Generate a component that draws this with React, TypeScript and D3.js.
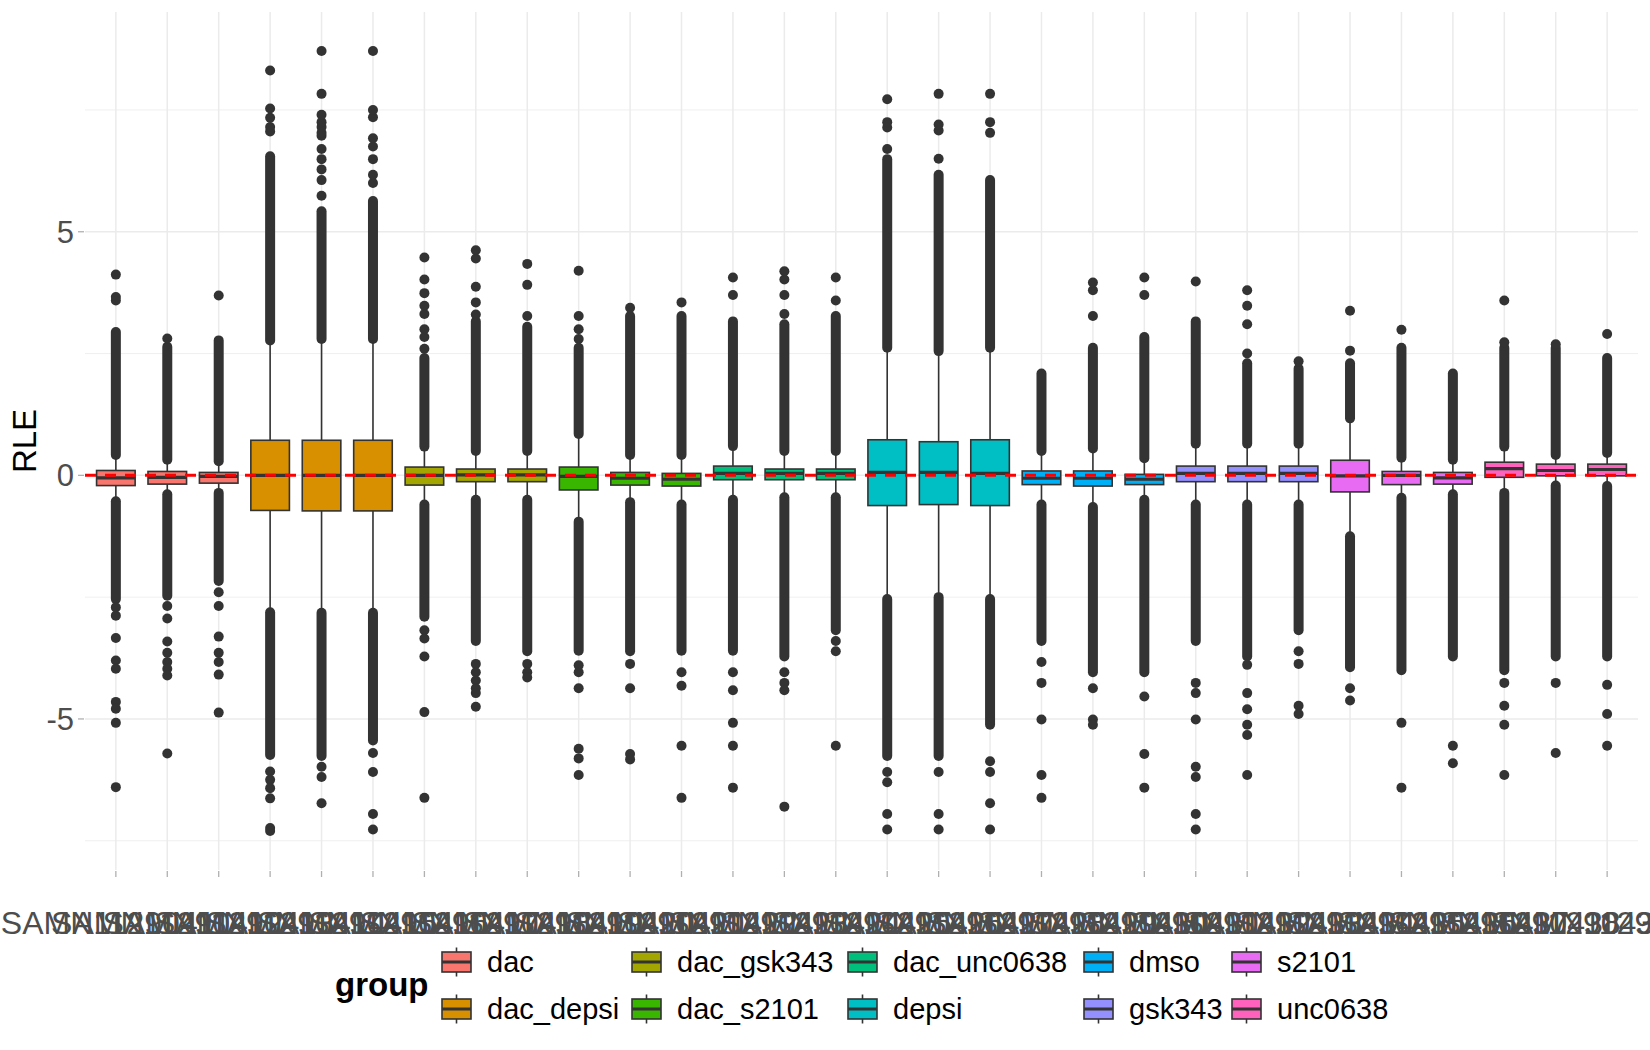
import { useRef, useEffect } from 'react'
import * as d3 from 'd3'

// sample labels (x axis) and their treatment group
const SAMPLES = [
  'SAMN11290411', 'SAMN11290412', 'SAMN11290413', 'SAMN11290414', 'SAMN11290415',
  'SAMN11290416', 'SAMN11290417', 'SAMN11290418', 'SAMN11290419', 'SAMN11290420',
  'SAMN11290421', 'SAMN11290422', 'SAMN11290423', 'SAMN11290424', 'SAMN11290425',
  'SAMN11290426', 'SAMN11290427', 'SAMN11290428', 'SAMN11290429', 'SAMN11290430',
  'SAMN11290431', 'SAMN11290432', 'SAMN11290433', 'SAMN11290434', 'SAMN11290435',
  'SAMN11290436', 'SAMN11290437', 'SAMN11290438', 'SAMN11290439', 'SAMN11290440',
]
const SAMPLE_GROUP = [
  'dac', 'dac', 'dac',
  'dac_depsi', 'dac_depsi', 'dac_depsi',
  'dac_gsk343', 'dac_gsk343', 'dac_gsk343',
  'dac_s2101', 'dac_s2101', 'dac_s2101',
  'dac_unc0638', 'dac_unc0638', 'dac_unc0638',
  'depsi', 'depsi', 'depsi',
  'dmso', 'dmso', 'dmso',
  'gsk343', 'gsk343', 'gsk343',
  's2101', 's2101', 's2101',
  'unc0638', 'unc0638', 'unc0638',
]
const GROUP_LEVELS = [
  'dac', 'dac_depsi', 'dac_gsk343', 'dac_s2101', 'dac_unc0638',
  'depsi', 'dmso', 'gsk343', 's2101', 'unc0638',
]
const GROUP_COLORS = [
  '#F8766D', '#D89000', '#A3A500', '#39B600', '#00BF7D',
  '#00BFC4', '#00B0F6', '#9590FF', '#E76BF3', '#FF62BC',
]

// box statistics per sample
const Q1 = [
  -0.21, -0.18, -0.16, -0.72, -0.73, -0.73, -0.2, -0.13, -0.13, -0.3,
  -0.2, -0.22, -0.09, -0.09, -0.09, -0.62, -0.6, -0.62, -0.19, -0.22,
  -0.19, -0.13, -0.13, -0.13, -0.34, -0.19, -0.18, -0.04, -0.01, -0.01,
]
const MEDIAN = [
  -0.05, -0.04, -0.02, 0.0, 0.0, 0.0, 0.0, 0.01, 0.01, -0.02,
  -0.06, -0.08, 0.04, 0.04, 0.04, 0.06, 0.06, 0.04, -0.06, -0.06,
  -0.08, 0.04, 0.04, 0.04, -0.01, 0.0, -0.05, 0.14, 0.1, 0.12,
]
const Q3 = [
  0.1, 0.08, 0.06, 0.72, 0.72, 0.72, 0.17, 0.13, 0.13, 0.17,
  0.06, 0.04, 0.19, 0.13, 0.13, 0.73, 0.69, 0.73, 0.09, 0.09,
  0.02, 0.19, 0.19, 0.19, 0.31, 0.08, 0.06, 0.27, 0.23, 0.23,
]
const WHISKER_LO = [
  -0.53, -0.39, -0.36, -2.81, -2.82, -2.82, -0.6, -0.5, -0.5, -0.95,
  -0.55, -0.6, -0.5, -0.45, -0.45, -2.54, -2.5, -2.54, -0.6, -0.65,
  -0.5, -0.6, -0.6, -0.6, -1.25, -0.46, -0.39, -0.36, -0.21, -0.22,
]
const WHISKER_HI = [
  0.42, 0.32, 0.29, 2.77, 2.8, 2.8, 0.59, 0.5, 0.5, 0.85,
  0.42, 0.42, 0.6, 0.5, 0.5, 2.62, 2.55, 2.62, 0.5, 0.55,
  0.35, 0.65, 0.65, 0.65, 1.17, 0.36, 0.32, 0.59, 0.42, 0.46,
]

// outliers: stretches where the points pile into a solid column [low, high]
const OUTLIER_RUNS: number[][][] = [
  [[0.42, 2.94], [-2.54, -0.53]],
  [[0.32, 2.64], [-2.47, -0.39]],
  [[0.29, 2.77], [-2.17, -0.36]],
  [[2.77, 6.55], [-5.74, -2.81]],
  [[2.8, 5.42], [-5.76, -2.82]],
  [[2.8, 5.63], [-5.44, -2.82]],
  [[0.59, 2.41], [-2.9, -0.6]],
  [[0.5, 3.16], [-3.4, -0.5]],
  [[0.5, 3.05], [-3.61, -0.5]],
  [[0.85, 2.62], [-3.6, -0.95]],
  [[0.42, 3.27], [-3.61, -0.55]],
  [[0.42, 3.27], [-3.6, -0.6]],
  [[0.6, 3.16], [-3.6, -0.5]],
  [[0.5, 3.1], [-3.72, -0.45]],
  [[0.5, 3.27], [-3.18, -0.45]],
  [[2.62, 6.49], [-5.76, -2.54]],
  [[2.55, 6.17], [-5.76, -2.5]],
  [[2.62, 6.06], [-5.12, -2.54]],
  [[0.5, 2.09], [-3.4, -0.6]],
  [[0.55, 2.62], [-4.04, -0.65]],
  [[0.35, 2.84], [-4.04, -0.5]],
  [[0.65, 3.16], [-3.4, -0.6]],
  [[0.65, 2.3], [-3.72, -0.6]],
  [[0.65, 2.19], [-3.18, -0.6]],
  [[1.17, 2.3], [-3.94, -1.25]],
  [[0.36, 2.62], [-4.0, -0.46]],
  [[0.32, 2.09], [-3.72, -0.39]],
  [[0.59, 2.62], [-4.0, -0.36]],
  [[0.42, 2.62], [-3.72, -0.21]],
  [[0.46, 2.41], [-3.72, -0.22]],
]
// outliers: single points beyond the solid columns
const OUTLIER_POINTS: number[][] = [
  [3.59, 3.66, 4.12, -2.71, -2.88, -3.34, -3.8, -3.97, -4.65, -4.79, -5.08, -6.4],
  [2.81, -2.68, -2.94, -3.41, -3.64, -3.83, -3.97, -4.11, -5.71],
  [3.69, -2.4, -2.68, -3.31, -3.64, -3.83, -4.09, -4.87],
  [7.06, 7.15, 7.34, 7.53, 8.31, -6.08, -6.25, -6.42, -6.63, -7.24, -7.3],
  [5.74, 6.06, 6.28, 6.49, 6.7, 6.97, 7.03, 7.15, 7.25, 7.4, 7.83, 8.71, -5.98, -6.19, -6.73],
  [6.0, 6.17, 6.49, 6.75, 6.92, 7.35, 7.5, 8.71, -5.7, -6.09, -6.95, -7.27],
  [2.6, 2.84, 3.0, 3.31, 3.48, 3.74, 4.02, 4.47, -3.18, -3.35, -3.72, -4.86, -6.62],
  [3.3, 3.55, 3.87, 4.45, 4.62, -3.87, -4.04, -4.21, -4.37, -4.47, -4.75],
  [3.27, 3.91, 4.34, -3.87, -4.04, -4.15],
  [2.8, 3.0, 3.27, 4.2, -3.9, -4.04, -4.37, -5.61, -5.81, -6.15],
  [3.44, -3.87, -4.37, -5.72, -5.83],
  [3.55, -4.04, -4.32, -5.55, -6.62],
  [3.7, 4.06, -4.04, -4.41, -5.08, -5.55, -6.41],
  [3.31, 3.7, 4.02, 4.19, -4.04, -4.26, -4.41, -6.8],
  [3.59, 4.06, -3.4, -3.61, -5.55],
  [6.7, 7.14, 7.25, 7.72, -6.09, -6.3, -6.95, -7.27],
  [6.5, 7.08, 7.2, 7.83, -6.09, -6.95, -7.27],
  [7.03, 7.25, 7.83, -5.87, -6.09, -6.73, -7.27],
  [-3.83, -4.26, -5.01, -6.15, -6.62],
  [3.27, 3.8, 3.96, -4.37, -5.01, -5.12],
  [3.7, 4.06, -4.54, -5.72, -6.41],
  [3.98, -4.26, -4.47, -5.01, -5.98, -6.19, -6.95, -7.27],
  [2.5, 3.1, 3.48, 3.8, -3.89, -4.47, -4.8, -5.12, -5.33, -6.15],
  [2.34, -3.61, -3.87, -4.73, -4.9],
  [2.56, 3.38, -4.37, -4.62],
  [2.99, -5.08, -6.41],
  [-5.55, -5.91],
  [2.73, 3.59, -4.26, -4.73, -5.12, -6.15],
  [2.69, -4.26, -5.7],
  [2.9, -4.3, -4.9, -5.55],
]

const Y_MAJOR = [-5, 0, 5]
const Y_MINOR = [-7.5, -2.5, 2.5, 7.5]
const REF_LINE = 0

const FONT = "'Liberation Sans', Arial, Helvetica, sans-serif"
const INK = '#333333'

export default function App() {
  const svgRef = useRef<SVGSVGElement>(null)

  useEffect(() => {
    if (!svgRef.current) return
    document.body.style.margin = '0'
    const svg = d3.select(svgRef.current)
    svg.selectAll('*').remove()

    const width = 1650
    const height = 1050
    const panel = { left: 85, right: 1638, top: 12, bottom: 870 }
    svg.attr('width', width).attr('height', height).style('font-family', FONT)

    const x = d3.scalePoint<string>()
      .domain(SAMPLES)
      .range([panel.left, panel.right])
      .padding(0.6)
    const boxW = x.step() * 0.75

    const allVals = OUTLIER_POINTS.flat().concat(OUTLIER_RUNS.flat(2))
    const [lo, hi] = d3.extent(allVals) as [number, number]
    const pad = (hi - lo) * 0.05
    const y = d3.scaleLinear().domain([lo - pad, hi + pad]).range([panel.bottom, panel.top])

    // grid
    const grid = svg.append('g')
    grid.selectAll('.minor').data(Y_MINOR).join('line')
      .attr('x1', panel.left).attr('x2', panel.right)
      .attr('y1', d => y(d)).attr('y2', d => y(d))
      .attr('stroke', '#EBEBEB').attr('stroke-width', 0.8)
    grid.selectAll('.major').data(Y_MAJOR).join('line')
      .attr('x1', panel.left).attr('x2', panel.right)
      .attr('y1', d => y(d)).attr('y2', d => y(d))
      .attr('stroke', '#EBEBEB').attr('stroke-width', 1.5)
    grid.selectAll('.vmajor').data(SAMPLES).join('line')
      .attr('x1', d => x(d)!).attr('x2', d => x(d)!)
      .attr('y1', panel.top).attr('y2', panel.bottom)
      .attr('stroke', '#EBEBEB').attr('stroke-width', 1.5)

    // ticks
    svg.append('g').selectAll('line').data(SAMPLES).join('line')
      .attr('x1', d => x(d)!).attr('x2', d => x(d)!)
      .attr('y1', panel.bottom + 1).attr('y2', panel.bottom + 7)
      .attr('stroke', '#B0B0B0').attr('stroke-width', 1.3)
    svg.append('g').selectAll('line').data(Y_MAJOR).join('line')
      .attr('x1', panel.left - 7).attr('x2', panel.left - 1)
      .attr('y1', d => y(d)).attr('y2', d => y(d))
      .attr('stroke', '#B0B0B0').attr('stroke-width', 1.3)

    // tick labels
    svg.append('g').selectAll('text').data(Y_MAJOR).join('text')
      .attr('x', 74).attr('y', d => y(d) + 11)
      .attr('text-anchor', 'end')
      .style('font-size', '31px').style('fill', '#4D4D4D')
      .text(d => String(d))
    svg.append('g').selectAll('text').data(SAMPLES).join('text')
      .attr('x', d => x(d)!).attr('y', 934)
      .attr('text-anchor', 'middle')
      .style('font-size', '32px').style('fill', '#4D4D4D')
      .text(d => d)

    svg.append('text')
      .attr('transform', `translate(36,${(panel.top + panel.bottom) / 2}) rotate(-90)`)
      .attr('text-anchor', 'middle')
      .style('font-size', '33px').style('fill', '#000')
      .text('RLE')

    // boxplots
    const colorOf = (g: string) => GROUP_COLORS[GROUP_LEVELS.indexOf(g)]
    const boxes = svg.append('g')
    SAMPLES.forEach((s, i) => {
      const cx = x(s)!
      const g = boxes.append('g')
      g.selectAll('.run').data(OUTLIER_RUNS[i]).join('line')
        .attr('x1', cx).attr('x2', cx)
        .attr('y1', d => y(d[0])).attr('y2', d => y(d[1]))
        .attr('stroke', INK).attr('stroke-width', 10).attr('stroke-linecap', 'round')
      g.selectAll('circle').data(OUTLIER_POINTS[i]).join('circle')
        .attr('cx', cx).attr('cy', d => y(d)).attr('r', 5)
        .attr('fill', INK)
      g.append('line')
        .attr('x1', cx).attr('x2', cx)
        .attr('y1', y(Q3[i])).attr('y2', y(WHISKER_HI[i]))
        .attr('stroke', INK).attr('stroke-width', 1.6)
      g.append('line')
        .attr('x1', cx).attr('x2', cx)
        .attr('y1', y(Q1[i])).attr('y2', y(WHISKER_LO[i]))
        .attr('stroke', INK).attr('stroke-width', 1.6)
      g.append('rect')
        .attr('x', cx - boxW / 2).attr('width', boxW)
        .attr('y', y(Q3[i])).attr('height', y(Q1[i]) - y(Q3[i]))
        .attr('fill', colorOf(SAMPLE_GROUP[i]))
        .attr('stroke', INK).attr('stroke-width', 1.6)
      g.append('line')
        .attr('x1', cx - boxW / 2).attr('x2', cx + boxW / 2)
        .attr('y1', y(MEDIAN[i])).attr('y2', y(MEDIAN[i]))
        .attr('stroke', INK).attr('stroke-width', 3.2)
    })

    // reference line
    svg.append('line')
      .attr('x1', panel.left).attr('x2', panel.right)
      .attr('y1', y(REF_LINE)).attr('y2', y(REF_LINE))
      .attr('stroke', '#FF0000').attr('stroke-width', 3)
      .attr('stroke-dasharray', '11,9')

    // legend
    const legend = svg.append('g')
    const rows = [962, 1009]
    const colX = [442, 632, 848, 1084, 1232]
    legend.append('text')
      .attr('x', 335).attr('y', 996)
      .style('font-size', '33px').style('font-weight', 'bold').style('fill', '#000')
      .text('group')
    GROUP_LEVELS.forEach((grp, k) => {
      const kx = colX[Math.floor(k / 2)]
      const cy = rows[k % 2]
      const item = legend.append('g')
      item.append('line')
        .attr('x1', kx + 14.5).attr('x2', kx + 14.5)
        .attr('y1', cy - 14.5).attr('y2', cy + 14.5)
        .attr('stroke', INK).attr('stroke-width', 1.6)
      item.append('rect')
        .attr('x', kx).attr('y', cy - 10).attr('width', 29).attr('height', 20)
        .attr('fill', GROUP_COLORS[k]).attr('stroke', INK).attr('stroke-width', 1.6)
      item.append('line')
        .attr('x1', kx).attr('x2', kx + 29)
        .attr('y1', cy).attr('y2', cy)
        .attr('stroke', INK).attr('stroke-width', 3)
      item.append('text')
        .attr('x', kx + 45).attr('y', cy + 10)
        .style('font-size', '29px').style('fill', '#000')
        .text(grp)
    })
  }, [])

  return <svg ref={svgRef} style={{ display: 'block', position: 'absolute', left: 0, top: 0 }} />
}
